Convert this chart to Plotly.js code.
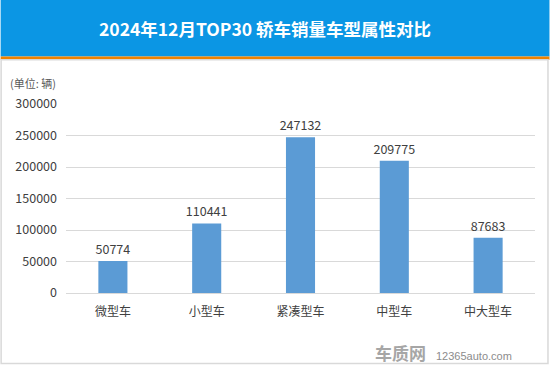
<!DOCTYPE html>
<html>
<head>
<meta charset="utf-8">
<script src="https://cdn.plot.ly/plotly-3.0.1.min.js"></script>
<style>
html,body{margin:0;padding:0;background:#fff;}
#chart{width:550px;height:365px;}
</style>
</head>
<body>
<div id="chart"></div>
<script>
var categories = ["微型车", "小型车", "紧凑型车", "中型车", "中大型车"];
var sales = [50774, 110441, 247132, 209775, 87683];
var yTicks = [0, 50000, 100000, 150000, 200000, 250000, 300000];
var titleText = "2024年12月TOP30 轿车销量车型属性对比";
var unitText = "(单位: 辆)";

var W = 550, H = 365;
var L = 65.5, R = 535.5, T = 104.3, B = 293;
function px(x){ return (x - L) / (R - L); }
function py(y){ return (B - y) / (B - T); }

var font = "'Noto Sans CJK SC', 'Noto Sans', sans-serif";

var trace = {
  type: "bar",
  x: categories,
  y: sales,
  marker: {color: "#5b9bd5"},
  text: sales.map(String),
  textposition: "outside",
  constraintext: "none",
  cliponaxis: false,
  textfont: {family: font, size: 12.5, color: "#404040"},
  outsidetextfont: {family: font, size: 12.5, color: "#404040"},
  hoverinfo: "x+y"
};

var layout = {
  width: W, height: H,
  margin: {l: L, r: W - R, t: T, b: H - B, pad: 0},
  paper_bgcolor: "#ffffff",
  plot_bgcolor: "#ffffff",
  showlegend: false,
  bargap: 0.69,
  font: {family: font, color: "#404040"},
  xaxis: {
    type: "category",
    showgrid: false,
    showline: true, linecolor: "#d9d9d9", linewidth: 1,
    ticks: "",
    tickfont: {family: font, size: 12, color: "#404040"},
    ticklabelstandoff: 8,
    fixedrange: true
  },
  yaxis: {
    range: [0, 300000],
    tickvals: yTicks,
    ticktext: yTicks.map(String),
    showgrid: true, gridcolor: "#d9d9d9", gridwidth: 1,
    zeroline: false,
    showline: false,
    ticks: "",
    tickfont: {family: font, size: 12.5, color: "#404040"},
    ticklabelstandoff: 8,
    fixedrange: true
  },
  shapes: [
    {type: "rect", xref: "paper", yref: "paper", x0: px(0), x1: px(550), y0: py(0), y1: py(57), fillcolor: "#0b96e4", line: {width: 0}, layer: "below"},
    {type: "rect", xref: "paper", yref: "paper", x0: px(0), x1: px(550), y0: py(57), y1: py(60), fillcolor: "#f08200", line: {width: 0}, layer: "below"},
    {type: "rect", xref: "paper", yref: "paper", x0: px(0.5), x1: px(548.5), y0: py(60), y1: py(363.5), fillcolor: "rgba(0,0,0,0)", line: {color: "#d9d9d9", width: 1.5}, layer: "below"}
  ],
  annotations: [
    {xref: "paper", yref: "paper", x: px(265), y: py(29), xanchor: "center", yanchor: "middle", showarrow: false,
     text: "<b>" + titleText + "</b>", font: {family: font, size: 17.5, color: "#ffffff"}},
    {xref: "paper", yref: "paper", x: px(7), y: py(83), xanchor: "left", yanchor: "middle", showarrow: false,
     text: unitText, font: {family: font, size: 11, color: "#595959"}},
    {xref: "paper", yref: "paper", x: px(373), y: py(352), xanchor: "left", yanchor: "middle", showarrow: false,
     text: "<b>车质网</b>", font: {family: font, size: 17, color: "#a6a6a6"}},
    {xref: "paper", yref: "paper", x: px(434), y: py(356), xanchor: "left", yanchor: "middle", showarrow: false,
     text: "12365auto.com", font: {family: "'Liberation Sans', Arial, sans-serif", size: 11, color: "#8c8c8c"}}
  ]
};

Plotly.newPlot("chart", [trace], layout, {displayModeBar: false, staticPlot: true});
</script>
</body>
</html>
